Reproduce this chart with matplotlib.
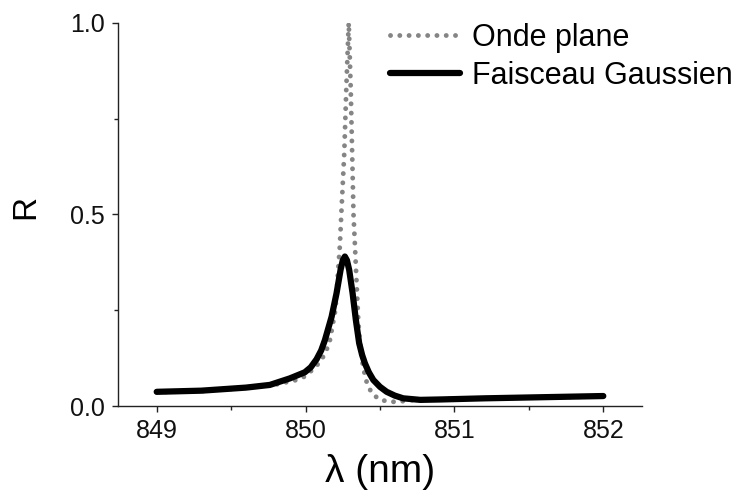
"""
  Reflectance vs wavelength: plane wave vs gaussian beam.
"""

import matplotlib as mpl
from matplotlib import pyplot as plt
from matplotlib.ticker import MultipleLocator

mpl.use("Agg")
plt.rcParams['font.family'] = ['Liberation Sans', 'DejaVu Sans']

# Onde plane (dotted gray)
WL_PLANE = [849.0, 849.3, 849.6, 849.8, 849.94, 850.0, 850.05, 850.1,
            850.13, 850.16, 850.18, 850.2, 850.21, 850.23, 850.24,
            850.26, 850.274, 850.29, 850.303, 850.313, 850.322, 850.332,
            850.345, 850.354, 850.365, 850.383, 850.405, 850.444, 850.5,
            850.57, 850.62, 850.7, 851.0, 851.5, 852.0]
R_PLANE = [0.036, 0.039, 0.047, 0.056, 0.068, 0.078, 0.096, 0.116,
           0.137, 0.164, 0.207, 0.25, 0.303, 0.416, 0.50,
           0.66, 0.834, 1.0, 0.834, 0.66, 0.50, 0.416,
           0.30, 0.224, 0.164, 0.111, 0.068, 0.033, 0.016,
           0.011, 0.011, 0.015, 0.019, 0.022, 0.025]

# Faisceau Gaussien (solid black)
WL_GAUSS = [849.0, 849.3, 849.6, 849.76, 849.894, 849.995, 850.035, 850.074,
            850.105, 850.13, 850.175, 850.208, 850.235, 850.25, 850.264,
            850.278, 850.293, 850.316, 850.338, 850.36, 850.38, 850.399,
            850.425, 850.455, 850.5, 850.545, 850.6, 850.656, 850.77, 850.9,
            851.2, 851.6, 852.0]
R_GAUSS = [0.037, 0.040, 0.048, 0.055, 0.072, 0.088, 0.101, 0.122,
           0.145, 0.172, 0.233, 0.294, 0.355, 0.38, 0.39,
           0.38, 0.355, 0.294, 0.224, 0.164, 0.133, 0.111,
           0.088, 0.068, 0.050, 0.037, 0.027, 0.020, 0.016, 0.017,
           0.020, 0.023, 0.026]

LABELS = ["Onde plane", "Faisceau Gaussien"]

fig = plt.figure(figsize=(7.41, 4.90), dpi=100)
ax = fig.add_axes([118 / 741, 1 - 406 / 490, 524 / 741, 383.3 / 490])

ax.plot(WL_PLANE, R_PLANE, color='#858585', lw=3.5,
        linestyle=(0, (0.01, 1.9)), dash_capstyle='round', label=LABELS[0])
ax.plot(WL_GAUSS, R_GAUSS, color='black', lw=4.5,
        solid_joinstyle='round', solid_capstyle='round', label=LABELS[1])

ax.set_xlim(848.74, 852.26)
ax.set_ylim(0, 1.0)
ax.xaxis.set_major_locator(MultipleLocator(1))
ax.xaxis.set_minor_locator(MultipleLocator(0.5))
ax.yaxis.set_major_locator(MultipleLocator(0.5))
ax.yaxis.set_minor_locator(MultipleLocator(0.25))
ax.xaxis.set_major_formatter(mpl.ticker.FormatStrFormatter('%d'))
ax.yaxis.set_major_formatter(mpl.ticker.FormatStrFormatter('%.1f'))

for side in ['top', 'right']:
    ax.spines[side].set_visible(False)
for side in ['left', 'bottom']:
    ax.spines[side].set_linewidth(1.0)
    ax.spines[side].set_color('#222222')

ax.tick_params(which='major', direction='out', length=4.5, width=1.0,
               labelsize=18, color='#222222', labelcolor='#111111', pad=5)
ax.tick_params(which='minor', direction='out', length=3, width=1.0,
               color='#222222')

ax.set_xlabel('λ (nm)', fontsize=28)
ax.xaxis.set_label_coords(0.5, -0.172)
ax.xaxis.label.set_va('center')
ax.set_ylabel('R', fontsize=24)
ax.yaxis.set_label_coords(-0.177, 0.52)
ax.yaxis.label.set_va('center')

ax.legend(loc='upper left', bbox_to_anchor=(390 / 741, 1 - 23 / 490),
          bbox_transform=fig.transFigure, frameon=False, fontsize=22,
          handlelength=2.3, handletextpad=0.4, labelspacing=0.26,
          borderpad=0, borderaxespad=0)

fig.savefig('out.png', dpi=100)
